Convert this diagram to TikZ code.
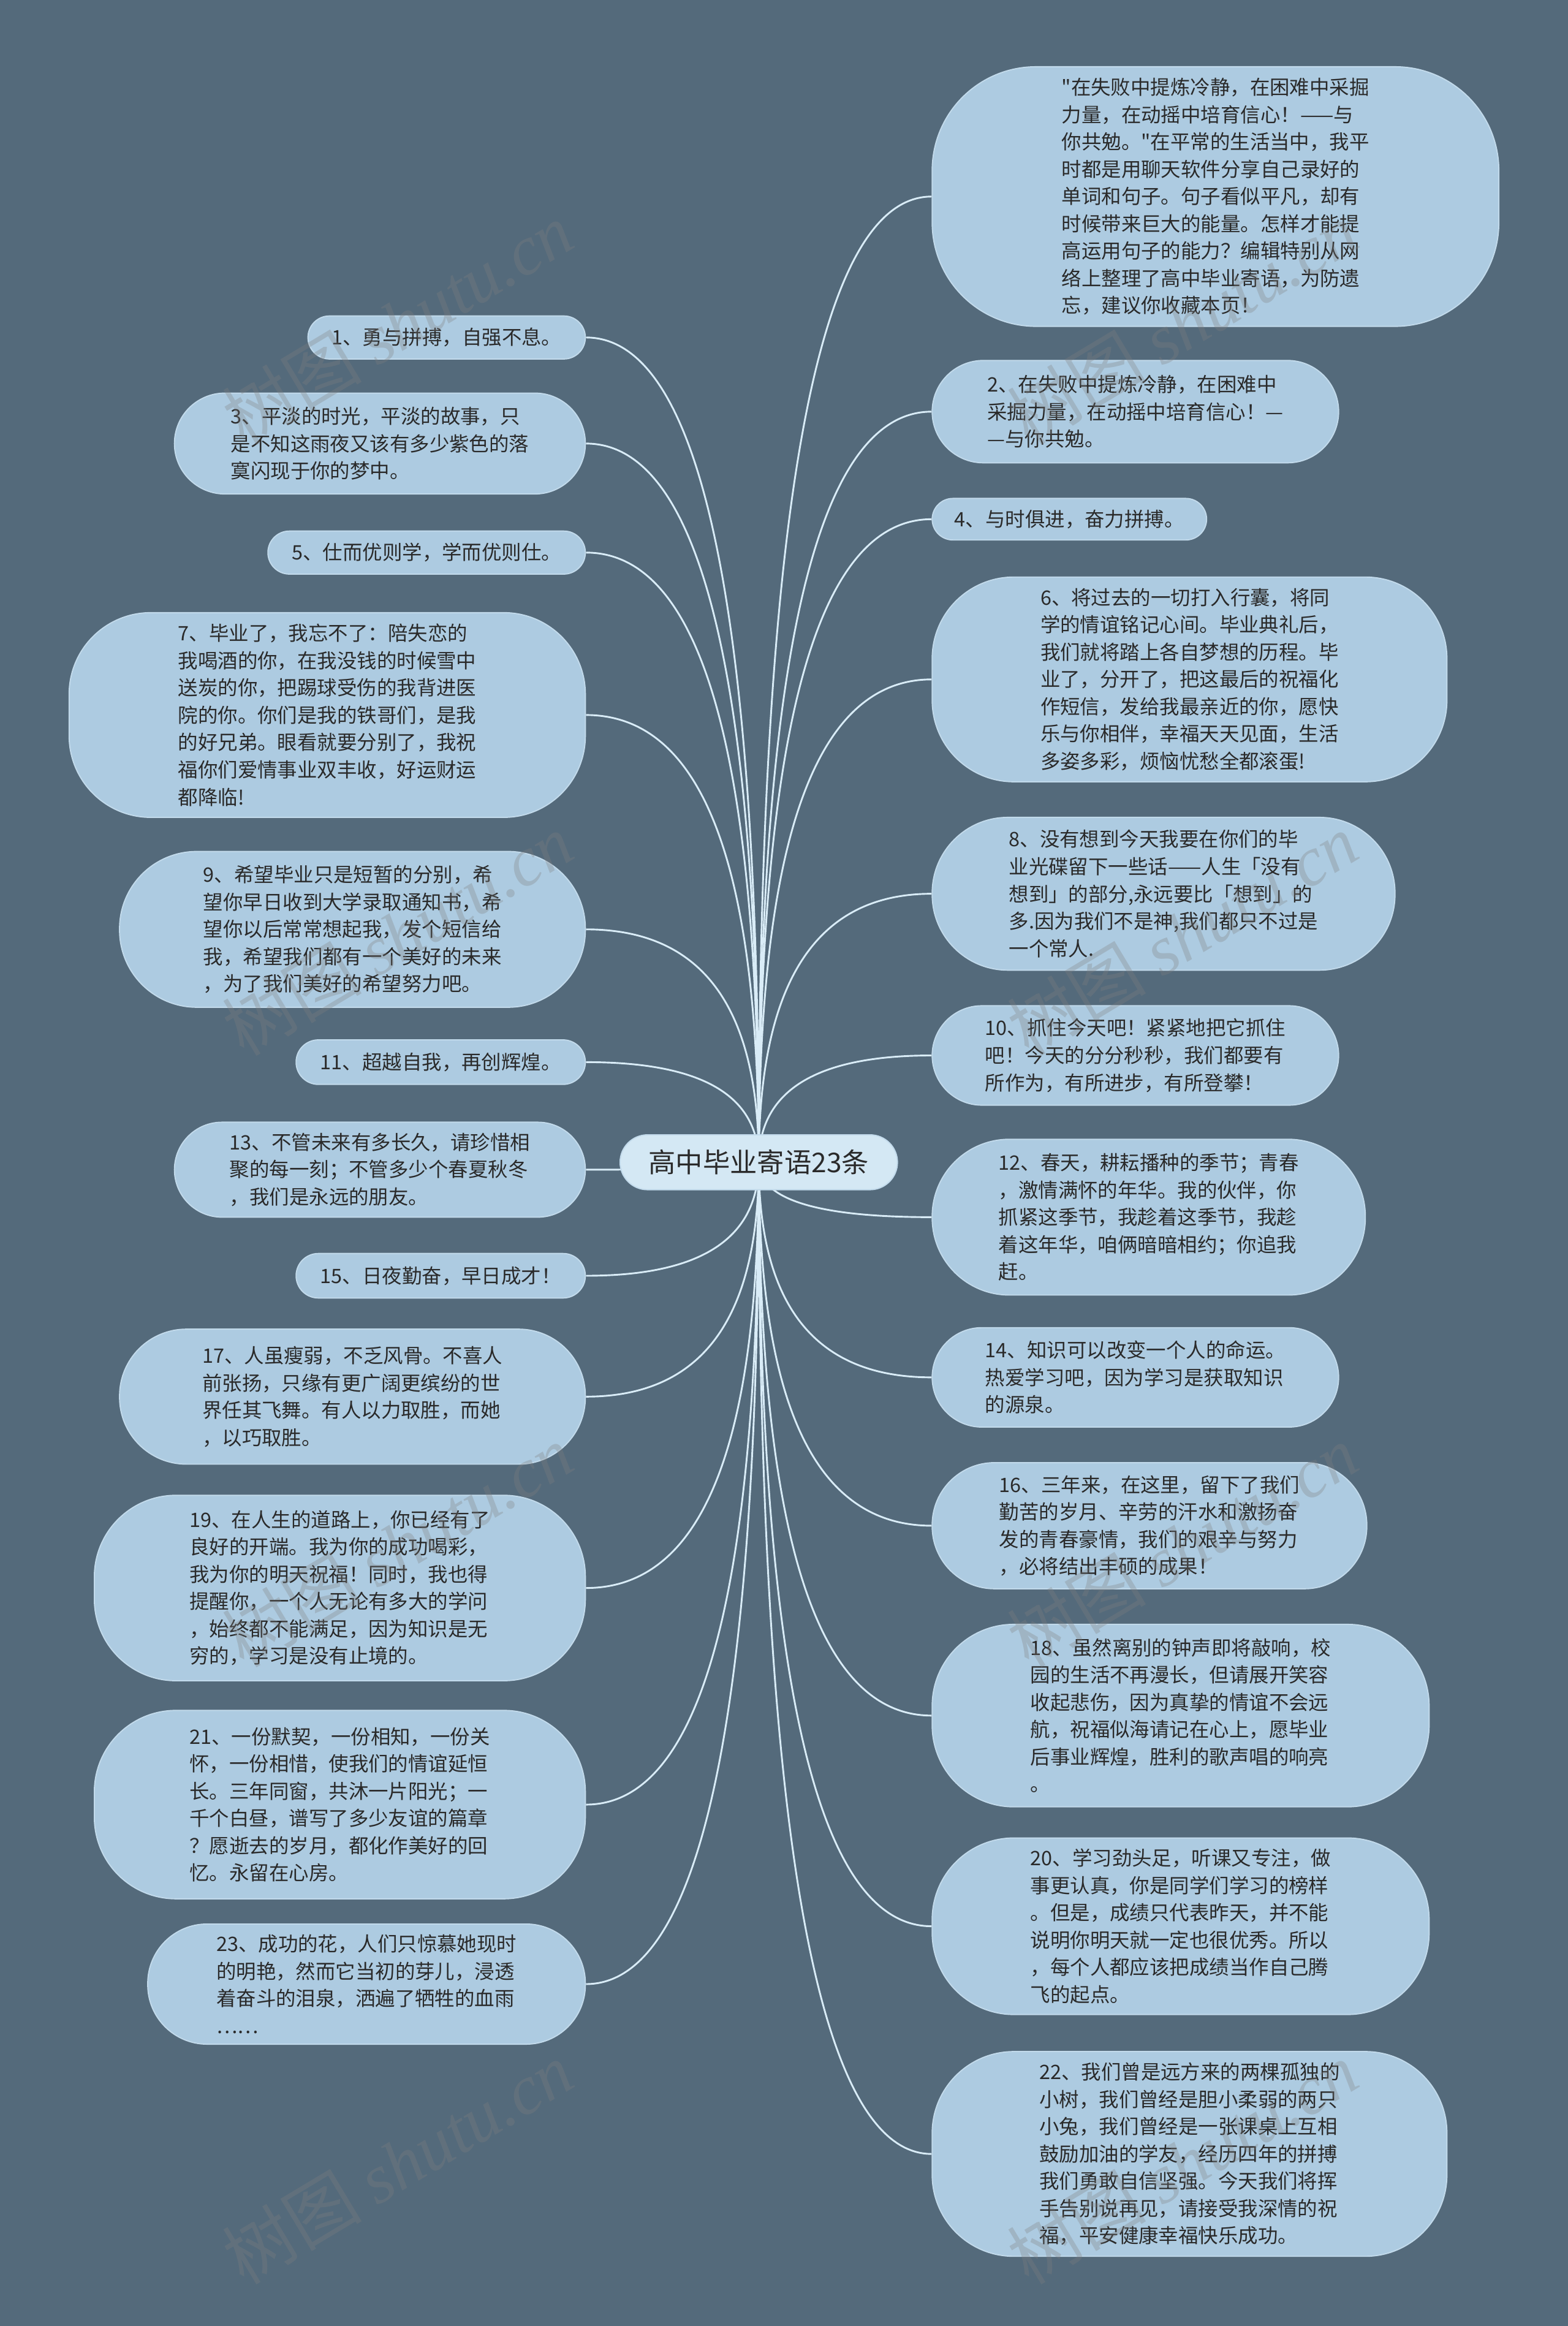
\documentclass[tikz,border=0pt]{standalone}
\usepackage{fontspec}
\setmainfont{Noto Sans CJK SC}
\newfontfamily\wmlatin{Liberation Serif}
\usetikzlibrary{calc}
\definecolor{slate}{HTML}{546A7B}
\definecolor{leafblue}{HTML}{ADCBE1}
\definecolor{hubblue}{HTML}{D4E8F4}
\definecolor{edgeblue}{HTML}{C2DAEB}
\definecolor{linkblue}{HTML}{D9ECF7}
\definecolor{ink}{HTML}{2A2A2A}
\pgfdeclarelayer{backdrop}
\pgfdeclarelayer{links}
\pgfsetlayers{backdrop,links,main}
% straight double quote, kept out of the TeX ligature mapping
\newcommand{\sq}{\XeTeXglyph\XeTeXcharglyph"22\relax}

\begin{document}
\begin{tikzpicture}[x=1pt, y=-1pt,
    leaf/.style={fill=leafblue, draw=edgeblue, line width=0.8pt, inner sep=0pt,
      align=left, text=ink, font=\fontsize{13.4pt}{18.4pt}\selectfont},
    hub/.style={fill=hubblue, draw=edgeblue, line width=0.8pt, inner sep=0pt,
      text=ink, font=\fontsize{18.3pt}{22pt}\selectfont,
      minimum width=187pt, minimum height=37pt, rounded corners=18.5pt},
    link/.style={draw=linkblue, line width=1.2pt},
    wmark/.style={text=gray, opacity=0.3, rotate=31, inner sep=0pt,
      font=\fontsize{47pt}{47pt}\selectfont}]
    \useasboundingbox (0,0) rectangle (1057,1568);
    \begin{pgfonlayer}{backdrop}
        \fill[slate] (0,0) rectangle (1057,1568);
    \end{pgfonlayer}

    % Central topic
    \node[hub] (main) at (511.5,783.5) {高中毕业寄语23条};

    % Left branch
    \node[leaf, anchor=east, minimum width=187pt, minimum height=29pt, rounded corners=14.5pt] (l1) at (395,227.5)
        {1、勇与拼搏，自强不息。};
    \node[leaf, anchor=east, minimum width=277pt, minimum height=68pt, rounded corners=34pt] (l3) at (395,299)
        {3、平淡的时光，平淡的故事，只\\是不知这雨夜又该有多少紫色的落\\寞闪现于你的梦中。};
    \node[leaf, anchor=east, minimum width=214pt, minimum height=29pt, rounded corners=14.5pt] (l5) at (395,372.5)
        {5、仕而优则学，学而优则仕。};
    \node[leaf, anchor=east, minimum width=348pt, minimum height=138pt, rounded corners=55pt] (l7) at (395,482)
        {7、毕业了，我忘不了：陪失恋的\\我喝酒的你，在我没钱的时候雪中\\送炭的你，把踢球受伤的我背进医\\院的你。你们是我的铁哥们，是我\\的好兄弟。眼看就要分别了，我祝\\福你们爱情事业双丰收，好运财运\\都降临!};
    \node[leaf, anchor=east, minimum width=314pt, minimum height=105pt, rounded corners=52pt] (l9) at (395,626.5)
        {9、希望毕业只是短暂的分别，希\\望你早日收到大学录取通知书，希\\望你以后常常想起我，发个短信给\\我，希望我们都有一个美好的未来\\，为了我们美好的希望努力吧。};
    \node[leaf, anchor=east, minimum width=195pt, minimum height=30pt, rounded corners=15pt] (l11) at (395,716)
        {11、超越自我，再创辉煌。};
    \node[leaf, anchor=east, minimum width=277pt, minimum height=64pt, rounded corners=32pt] (l13) at (395,788.5)
        {13、不管未来有多长久，请珍惜相\\聚的每一刻；不管多少个春夏秋冬\\，我们是永远的朋友。};
    \node[leaf, anchor=east, minimum width=195pt, minimum height=30pt, rounded corners=15pt] (l15) at (395,860)
        {15、日夜勤奋，早日成才！};
    \node[leaf, anchor=east, minimum width=314pt, minimum height=91pt, rounded corners=45pt] (l17) at (395,941.5)
        {17、人虽瘦弱，不乏风骨。不喜人\\前张扬，只缘有更广阔更缤纷的世\\界任其飞舞。有人以力取胜，而她\\，以巧取胜。};
    \node[leaf, anchor=east, minimum width=331pt, minimum height=125pt, rounded corners=55pt] (l19) at (395,1070.5)
        {19、在人生的道路上，你已经有了\\良好的开端。我为你的成功喝彩，\\我为你的明天祝福！同时，我也得\\提醒你，一个人无论有多大的学问\\，始终都不能满足，因为知识是无\\穷的，学习是没有止境的。};
    \node[leaf, anchor=east, minimum width=331pt, minimum height=127pt, rounded corners=55pt] (l21) at (395,1216.5)
        {21、一份默契，一份相知，一份关\\怀，一份相惜，使我们的情谊延恒\\长。三年同窗，共沐一片阳光；一\\千个白昼，谱写了多少友谊的篇章\\？愿逝去的岁月，都化作美好的回\\忆。永留在心房。};
    \node[leaf, anchor=east, minimum width=295pt, minimum height=81pt, rounded corners=40pt] (l23) at (395,1337.5)
        {23、成功的花，人们只惊慕她现时\\的明艳，然而它当初的芽儿，浸透\\着奋斗的泪泉，洒遍了牺牲的血雨\\……};

    % Right branch
    \node[leaf, anchor=west, minimum width=382pt, minimum height=175pt, rounded corners=70pt] (r0) at (628,132.5)
        {\sq 在失败中提炼冷静，在困难中采掘\\力量，在动摇中培育信心！——与\\你共勉。\sq 在平常的生活当中，我平\\时都是用聊天软件分享自己录好的\\单词和句子。句子看似平凡，却有\\时候带来巨大的能量。怎样才能提\\高运用句子的能力？编辑特别从网\\络上整理了高中毕业寄语，为防遗\\忘，建议你收藏本页！};
    \node[leaf, anchor=west, minimum width=274pt, minimum height=69pt, rounded corners=34.5pt] (r2) at (628,277.5)
        {2、在失败中提炼冷静，在困难中\\采掘力量，在动摇中培育信心！—\\—与你共勉。};
    \node[leaf, anchor=west, minimum width=185pt, minimum height=28pt, rounded corners=14pt] (r4) at (628,350)
        {4、与时俱进，奋力拼搏。};
    \node[leaf, anchor=west, minimum width=347pt, minimum height=138pt, rounded corners=55pt] (r6) at (628,458)
        {6、将过去的一切打入行囊，将同\\学的情谊铭记心间。毕业典礼后，\\我们就将踏上各自梦想的历程。毕\\业了，分开了，把这最后的祝福化\\作短信，发给我最亲近的你，愿快\\乐与你相伴，幸福天天见面，生活\\多姿多彩，烦恼忧愁全都滚蛋!};
    \node[leaf, anchor=west, minimum width=312pt, minimum height=103pt, rounded corners=51pt] (r8) at (628,602.5)
        {8、没有想到今天我要在你们的毕\\业光碟留下一些话——人生「没有\\想到」的部分,永远要比「想到」的\\多.因为我们不是神,我们都只不过是\\一个常人.};
    \node[leaf, anchor=west, minimum width=274pt, minimum height=67pt, rounded corners=33.5pt] (r10) at (628,711.5)
        {10、抓住今天吧！紧紧地把它抓住\\吧！今天的分分秒秒，我们都要有\\所作为，有所进步，有所登攀！};
    \node[leaf, anchor=west, minimum width=292pt, minimum height=105pt, rounded corners=52pt] (r12) at (628,820.5)
        {12、春天，耕耘播种的季节；青春\\，激情满怀的年华。我的伙伴，你\\抓紧这季节，我趁着这季节，我趁\\着这年华，咱俩暗暗相约；你追我\\赶。};
    \node[leaf, anchor=west, minimum width=274pt, minimum height=67pt, rounded corners=33.5pt] (r14) at (628,928.5)
        {14、知识可以改变一个人的命运。\\热爱学习吧，因为学习是获取知识\\的源泉。};
    \node[leaf, anchor=west, minimum width=293pt, minimum height=85pt, rounded corners=42pt] (r16) at (628,1028.5)
        {16、三年来，在这里，留下了我们\\勤苦的岁月、辛劳的汗水和激扬奋\\发的青春豪情，我们的艰辛与努力\\，必将结出丰硕的成果！};
    \node[leaf, anchor=west, minimum width=335pt, minimum height=123pt, rounded corners=55pt] (r18) at (628,1156.5)
        {18、虽然离别的钟声即将敲响，校\\园的生活不再漫长，但请展开笑容\\收起悲伤，因为真挚的情谊不会远\\航，祝福似海请记在心上，愿毕业\\后事业辉煌，胜利的歌声唱的响亮\\。};
    \node[leaf, anchor=west, minimum width=335pt, minimum height=119pt, rounded corners=55pt] (r20) at (628,1298.5)
        {20、学习劲头足，听课又专注，做\\事更认真，你是同学们学习的榜样\\。但是，成绩只代表昨天，并不能\\说明你明天就一定也很优秀。所以\\，每个人都应该把成绩当作自己腾\\飞的起点。};
    \node[leaf, anchor=west, minimum width=347pt, minimum height=138pt, rounded corners=55pt] (r22) at (628,1452)
        {22、我们曾是远方来的两棵孤独的\\小树，我们曾经是胆小柔弱的两只\\小兔，我们曾经是一张课桌上互相\\鼓励加油的学友，经历四年的拼搏\\我们勇敢自信坚强。今天我们将挥\\手告别说再见，请接受我深情的祝\\福，平安健康幸福快乐成功。};

    % Connectors from the central topic
    \begin{pgfonlayer}{links}
        \foreach \n in {l1,l3,l5,l7,l9,l11,l13,l15,l17,l19,l21,l23}
            \draw[link] (main.center) .. controls ($(main.center)!0.67!(main.center|-\n.east)$)
                and ($(\n.east)!0.67!(main.center|-\n.east)$) .. (\n.east);
        \foreach \n in {r0,r2,r4,r6,r8,r10,r12,r14,r16,r18,r20,r22}
            \draw[link] (main.center) .. controls ($(main.center)!0.67!(main.center|-\n.west)$)
                and ($(\n.west)!0.67!(main.center|-\n.west)$) .. (\n.west);
    \end{pgfonlayer}

    % Watermarks
    \foreach \i/\px/\py in {1/268/218,2/797/218,3/268/630,4/797/630,5/268/1042,6/797/1042,7/268/1458,8/797/1458}
        \node[wmark] (wm\i) at (\px,\py) {树图 {\wmlatin\itshape shutu.cn}};
\end{tikzpicture}
\end{document}
